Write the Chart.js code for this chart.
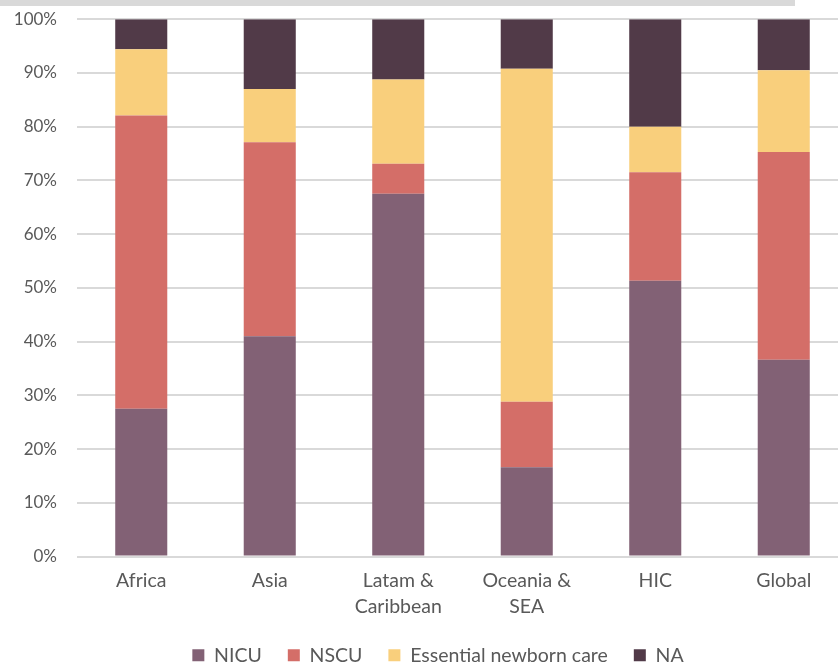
<!DOCTYPE html>
<html>
<head>
<meta charset="utf-8">
<script src="https://cdn.jsdelivr.net/npm/chart.js@4"></script>
<style>
  html, body { margin: 0; padding: 0; background: #fff; overflow: hidden; }
  #wrap { position: relative; width: 838px; height: 663px; overflow: hidden; }
  #topbar { position: absolute; left: 0; top: 0; width: 795px; height: 6px; background: #d9d9d9; z-index: 1; }
  canvas { position: absolute; left: 0; top: -11px; }
</style>
</head>
<body>
<div id="wrap">
  <div id="topbar"></div>
  <canvas id="chart" width="860" height="686"></canvas>
</div>
<script>
// Share of facilities by level of newborn care, per region (percent)
const regions = [['Africa'], ['Asia'], ['Latam &', 'Caribbean'], ['Oceania &', 'SEA'], ['HIC'], ['Global']];
const nicu = [27.5, 41.0, 67.5, 16.6, 51.3, 36.6];
const nscu = [54.6, 36.1, 5.6, 12.2, 20.2, 38.7];
const essentialCare = [12.3, 9.9, 15.7, 62.0, 8.5, 15.2];
const notAvailable = [5.6, 13.0, 11.2, 9.2, 20.0, 9.5];
const yTicks = [0, 10, 20, 30, 40, 50, 60, 70, 80, 90, 100];

const textColor = '#595959';
const family = 'Lato, "Open Sans", sans-serif';
const tickFont = { family: family, size: 17 };
const labelFont = { family: family, size: 19.5, lineHeight: 1.33 };

// Nudge the legend row to the right of the plot's centre line
const legendShift = {
  id: 'legendShift',
  afterLayout(chart) {
    chart.legend.left += 14;
    chart.legend.right += 14;
  }
};

new Chart(document.getElementById('chart'), {
  type: 'bar',
  data: {
    labels: regions,
    datasets: [
      { label: 'NICU', data: nicu, backgroundColor: '#826175' },
      { label: 'NSCU', data: nscu, backgroundColor: '#d46e68' },
      { label: 'Essential newborn care', data: essentialCare, backgroundColor: '#f9cf7c' },
      { label: 'NA', data: notAvailable, backgroundColor: '#513a48' }
    ]
  },
  plugins: [legendShift],
  options: {
    responsive: false,
    animation: false,
    layout: { padding: { top: 8, right: 12, left: 0, bottom: 0 } },
    datasets: { bar: { categoryPercentage: 1, barPercentage: 0.405 } },
    plugins: {
      tooltip: { enabled: false },
      legend: {
        position: 'bottom',
        labels: {
          color: textColor,
          font: { family: family, size: 19.5 },
          boxWidth: 12,
          boxHeight: 12,
          padding: 26
        }
      }
    },
    scales: {
      x: {
        stacked: true,
        grid: { display: false },
        border: { display: false },
        ticks: { color: textColor, font: labelFont, padding: 3, maxRotation: 0, autoSkip: false },
        afterFit: s => { s.height = 63; }
      },
      y: {
        stacked: true,
        min: 0,
        max: 100,
        afterBuildTicks: s => { s.ticks = yTicks.map(v => ({ value: v })); },
        afterFit: s => { s.width = 77; },
        grid: { color: '#d9d9d9', lineWidth: 2, drawTicks: false },
        border: { display: false },
        ticks: { color: textColor, font: tickFont, padding: 20, callback: v => v + '%' }
      }
    }
  }
});
</script>
</body>
</html>
